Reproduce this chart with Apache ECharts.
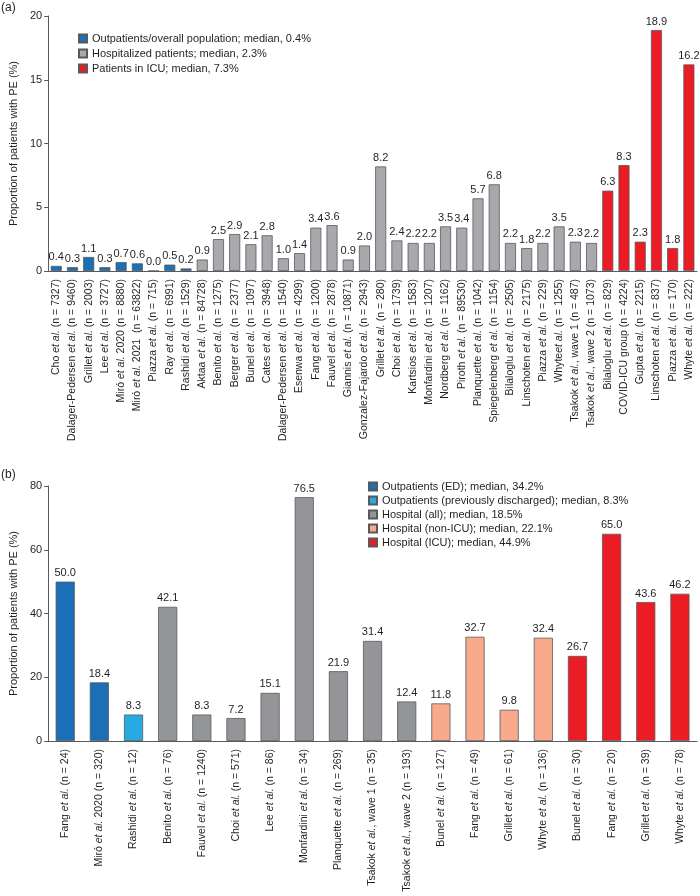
<!DOCTYPE html>
<html>
<head>
<meta charset="utf-8">
<script src="https://cdn.jsdelivr.net/npm/echarts@6/dist/echarts.min.js"></script>
<style>
html,body{margin:0;padding:0;background:#fff;}
#c{width:700px;height:896px;}
</style>
</head>
<body>
<div id="c"></div>
<script>
// ---------- Panel (a) data ----------
const catsA = [
  "Cho *et al.* (n = 7327)", "Dalager-Pedersen *et al.* (n = 9460)", "Grillet *et al.* (n = 2003)",
  "Lee *et al.* (n = 3727)", "Miró *et al.* 2020 (n = 8880)", "Miró *et al.* 2021  (n = 63822)",
  "Piazza *et al.* (n = 715)", "Ray *et al.* (n = 6991)", "Rashidi *et al.* (n = 1529)",
  "Aktaa *et al.* (n = 84728)", "Benito *et al.* (n = 1275)", "Berger *et al.* (n = 2377)",
  "Bunel *et al.* (n = 1097)", "Cates *et al.* (n = 3948)", "Dalager-Pedersen *et al.* (n = 1540)",
  "Esenwa *et al.* (n = 4299)", "Fang *et al.* (n = 1200)", "Fauvel *et al.* (n = 2878)",
  "Giannis *et al.* (n = 10871)", "Gonzalez-Fajardo *et al.* (n = 2943)", "Grillet *et al.* (n = 280)",
  "Choi *et al.* (n = 1739)", "Kartsios *et al.* (n = 1583)", "Monfardini *et al.* (n = 1207)",
  "Nordberg *et al.* (n = 1162)", "Piroth *et al.* (n = 89530)", "Planquette *et al.* (n = 1042)",
  "Spiegelenberg *et al.* (n = 1154)", "Bilaloglu *et al.* (n = 2505)", "Linschoten *et al.* (n = 2175)",
  "Piazza *et al.* (n = 229)", "Whyte*et al.* (n = 1255)", "Tsakok *et al.*, wave 1 (n = 487)",
  "Tsakok *et al.*, wave 2 (n = 1073)", "Bilaloglu *et al.* (n = 829)", "COVID-ICU group (n = 4224)",
  "Gupta *et al.* (n = 2215)", "Linschoten *et al.* (n = 837)", "Piazza *et al.* (n = 170)",
  "Whyte *et al.* (n = 222)"
];
const outpatientsA = [0.4, 0.3, 1.1, 0.3, 0.7, 0.6, 0.0, 0.5, 0.2];
const hospitalizedA = [0.9, 2.5, 2.9, 2.1, 2.8, 1.0, 1.4, 3.4, 3.6, 0.9, 2.0, 8.2, 2.4, 2.2, 2.2, 3.5, 3.4, 5.7, 6.8, 2.2, 1.8, 2.2, 3.5, 2.3, 2.2];
const icuA = [6.3, 8.3, 2.3, 18.9, 1.8, 16.2];
const namesA = ["Outpatients/overall population; median, 0.4%", "Hospitalized patients; median, 2.3%", "Patients in ICU; median, 7.3%"];
const yTicksA = [0, 5, 10, 15, 20];

// ---------- Panel (b) data ----------
const catsB = [
  "Fang *et al.* (n = 24)", "Miró *et al.* 2020 (n = 320)", "Rashidi *et al.* (n = 12)",
  "Benito *et al.* (n = 76)", "Fauvel *et al.* (n = 1240)", "Choi *et al.* (n = 571)",
  "Lee *et al.* (n = 86)", "Monfardini *et al.* (n = 34)", "Planquette *et al.* (n = 269)",
  "Tsakok *et al.*, wave 1 (n = 35)", "Tsakok *et al.*, wave 2 (n = 193)", "Bunel *et al.* (n = 127)",
  "Fang *et al.* (n = 49)", "Grillet *et al.* (n = 61)", "Whyte *et al.* (n = 136)",
  "Bunel *et al.* (n = 30)", "Fang *et al.* (n = 20)", "Grillet *et al.* (n = 39)", "Whyte *et al.* (n = 78)"
];
const edB = [50.0, 18.4];
const dischargedB = [8.3];
const hospAllB = [42.1, 8.3, 7.2, 15.1, 76.5, 21.9, 31.4, 12.4];
const nonIcuB = [11.8, 32.7, 9.8, 32.4];
const icuB = [26.7, 65.0, 43.6, 46.2];
const namesB = ["Outpatients (ED); median, 34.2%", "Outpatients (previously discharged); median, 8.3%",
  "Hospital (all); median, 18.5%", "Hospital (non-ICU); median, 22.1%", "Hospital (ICU); median, 44.9%"];
const yTicksB = [0, 20, 40, 60, 80];

// ---------- helpers ----------
const TXT = '#231f20';
const FONT = '"Liberation Sans", Arial, sans-serif';
function richLabel(s) {
  const parts = s.split('*');
  let out = '';
  parts.forEach((p, i) => { if (p.length) out += '{' + (i % 2 ? 'i' : 'n') + '|' + p + '}'; });
  return out;
}
function pad(groups) {
  const total = groups.reduce((a, g) => a + g.length, 0);
  let off = 0;
  return groups.map(g => {
    const arr = new Array(total).fill('-');
    g.forEach((v, i) => arr[off + i] = v);
    off += g.length;
    return arr;
  });
}
const rich = {
  n: {fontSize: 10.5, color: TXT, fontFamily: FONT},
  i: {fontSize: 10.5, color: TXT, fontFamily: FONT, fontStyle: 'italic'}
};
function xAxis(gridIndex, cats) {
  return {
    type: 'category', gridIndex, data: cats,
    axisLine: {lineStyle: {color: '#58595b', width: 1}},
    axisTick: {show: false},
    axisLabel: {interval: 0, rotate: 90, margin: 8, formatter: v => richLabel(v), rich}
  };
}
function yAxis(gridIndex, ticks) {
  return {
    type: 'value', gridIndex, min: ticks[0], max: ticks[ticks.length - 1],
    interval: ticks[1] - ticks[0],
    name: 'Proportion of patients with PE (%)', nameLocation: 'middle', nameGap: 27,
    nameTextStyle: {fontSize: 11, color: TXT, fontFamily: FONT},
    axisLine: {show: true, lineStyle: {color: '#58595b', width: 1}},
    axisTick: {show: true, length: 4, lineStyle: {color: '#58595b'}},
    axisLabel: {fontSize: 11, color: TXT, fontFamily: FONT, margin: 6},
    splitLine: {show: false}
  };
}
function barSeries(name, data, color, axisIdx, gap, stack) {
  return {
    type: 'bar', name, data, xAxisIndex: axisIdx, yAxisIndex: axisIdx, stack,
    barCategoryGap: gap,
    itemStyle: {color, borderColor: '#58595b', borderWidth: 0.8},
    label: {show: true, position: 'top', distance: 3, fontSize: 11, color: TXT, fontFamily: FONT,
      formatter: p => Number(p.value).toFixed(1)},
    emphasis: {disabled: true}
  };
}

const dA = pad([outpatientsA, hospitalizedA, icuA]);
const dB = pad([edB, dischargedB, hospAllB, nonIcuB, icuB]);
const colA = ['#1b6fb6', '#a7a9ac', '#ec1c24'];
const colB = ['#1b6fb6', '#27a9e1', '#939598', '#f9a98c', '#ec1c24'];

const series = [];
namesA.forEach((n, i) => series.push(barSeries(n, dA[i], colA[i], 0, '32%', 'a')));
namesB.forEach((n, i) => series.push(barSeries(n, dB[i], colB[i], 1, '44%', 'b')));

const legendCommon = {
  orient: 'vertical', icon: 'rect', itemWidth: 8, itemHeight: 8, itemGap: 3,
  textStyle: {fontSize: 11, color: TXT, fontFamily: FONT}, selectedMode: false
};

const option = {
  animation: false,
  textStyle: {fontFamily: FONT},
  graphic: [
    {type: 'text', left: 1, top: 2, style: {text: '(a)', fontSize: 12, fill: TXT, fontFamily: FONT}},
    {type: 'text', left: 1, top: 469, style: {text: '(b)', fontSize: 12, fill: TXT, fontFamily: FONT}}
  ],
  grid: [
    {left: 48, right: 3, top: 16, height: 255},
    {left: 48, right: 3, top: 486, height: 255}
  ],
  legend: [
    Object.assign({}, legendCommon, {data: namesA, left: 73, top: 28, itemGap: 4}),
    Object.assign({}, legendCommon, {data: namesB, left: 363, top: 476})
  ],
  xAxis: [xAxis(0, catsA), xAxis(1, catsB)],
  yAxis: [yAxis(0, yTicksA), yAxis(1, yTicksB)],
  series
};
const chart = echarts.init(document.getElementById('c'), null, {renderer: 'canvas'});
chart.setOption(option);
</script>
</body>
</html>
